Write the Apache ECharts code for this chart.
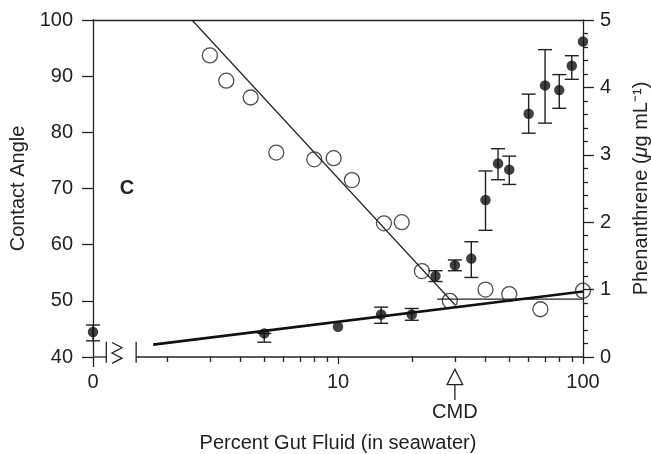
<!DOCTYPE html>
<html>
<head>
<meta charset="utf-8">
<script src="https://cdn.jsdelivr.net/npm/echarts@6/dist/echarts.min.js"></script>
<style>html,body{margin:0;padding:0;background:#fff}#c{width:651px;height:454px}</style>
</head>
<body>
<div id="c"></div>
<script>
// ---- data ----
const angleX = [3, 3.5, 4.4, 5.6, 8, 9.6, 11.4, 15.4, 18.2, 22, 28.6, 40, 50, 67, 100];
const angleY = [93.7, 89.2, 86.2, 76.4, 75.2, 75.4, 71.5, 63.8, 64.0, 55.3, 50.0, 52.0, 51.2, 48.5, 51.8];
const phenX = [5, 10, 15, 20, 25, 30, 35, 40, 45, 50, 60, 70, 80, 90, 100];
const phenY = [0.35, 0.45, 0.63, 0.63, 1.20, 1.36, 1.46, 2.33, 2.87, 2.78, 3.61, 4.03, 3.96, 4.32, 4.68];
const phenLow = [0.22, null, 0.50, 0.545, 1.12, 1.28, 1.18, 1.88, 2.63, 2.56, 3.32, 3.47, 3.69, 4.12, null];
const phenHigh = [0.35, null, 0.74, 0.72, 1.28, 1.44, 1.71, 2.76, 3.09, 2.98, 3.90, 4.56, 4.19, 4.47, null];
const zeroX = [0];
const zeroY = [0.37];
const zeroLow = [0.24];
const zeroHigh = [0.475];
const angleFitX = [2.535, 30];
const angleFitY = [100, 49.3];
const angleFlatX = [25.4, 100];
const angleFlatY = [50.3, 50.3];
const phenFitX = [1.76, 100];
const phenFitY = [0.184, 0.971];
const majorTicks = [10, 100];
const minorTicks = [2, 3, 4, 5, 6, 7, 8, 9, 20, 30, 40, 50, 60, 70, 80, 90];
const cmdX = 30;

const FONT = '"Liberation Sans", Arial, Helvetica, sans-serif';
const INK = '#222';
const zip = (a, b) => a.map((v, i) => [v, b[i]]);
const errData = (xs, lo, hi) => xs.map((x, i) => [x, lo[i], hi[i]]).filter(d => d[1] != null);

function errRender(params, api) {
  const x = api.value(0), lo = api.value(1), hi = api.value(2);
  const a = api.coord([x, lo]), b = api.coord([x, hi]);
  const hw = 7;
  const st = { stroke: INK, lineWidth: 1.4 };
  return { type: 'group', children: [
    { type: 'line', shape: { x1: a[0], y1: a[1], x2: b[0], y2: b[1] }, style: st },
    { type: 'line', shape: { x1: a[0] - hw, y1: a[1], x2: a[0] + hw, y2: a[1] }, style: st },
    { type: 'line', shape: { x1: b[0] - hw, y1: b[1], x2: b[0] + hw, y2: b[1] }, style: st }
  ]};
}

const chart = echarts.init(document.getElementById('c'), null, { renderer: 'canvas' });
const axisLine = { show: true, onZero: false, lineStyle: { color: INK, width: 1.3 } };
const noLine = { show: false, onZero: false };
chart.setOption({
  animation: false,
  backgroundColor: '#fff',
  textStyle: { fontFamily: FONT },
  grid: { left: 93, right: 68, top: 20, bottom: 97, containLabel: false, outerBoundsMode: 'none' },
  xAxis: [
    { type: 'log', logBase: 10, min: 1, max: 100, position: 'bottom',
      axisLine: noLine,
      axisTick: { show: true, inside: false, length: 7, lineStyle: { color: INK, width: 1.3 }, customValues: majorTicks },
      minorTick: { show: false },
      axisLabel: { show: true, customValues: majorTicks, margin: 15, fontSize: 20, color: INK, fontFamily: FONT },
      splitLine: { show: false },
      name: 'Percent Gut Fluid (in seawater)', nameLocation: 'middle', nameGap: 76,
      nameTextStyle: { fontSize: 20, color: INK, fontFamily: FONT } },
    { type: 'log', logBase: 10, min: 1, max: 100, position: 'bottom',
      axisLine: noLine,
      axisTick: { show: true, length: 5, lineStyle: { color: INK, width: 1.3 }, customValues: minorTicks },
      minorTick: { show: false },
      axisLabel: { show: false }, splitLine: { show: false } },
    { type: 'value', min: 0, max: 1, position: 'bottom',
      axisLine: noLine,
      axisTick: { show: true, length: 10, lineStyle: { color: INK, width: 1.3 }, customValues: [0] },
      minorTick: { show: false },
      axisLabel: { show: true, customValues: [0], margin: 15, fontSize: 20, color: INK, fontFamily: FONT },
      splitLine: { show: false } },
    { type: 'value', min: 0, max: 1, position: 'top',
      axisLine: axisLine, axisTick: { show: false }, minorTick: { show: false },
      axisLabel: { show: false }, splitLine: { show: false } }
  ],
  yAxis: [
    { type: 'value', min: 40, max: 100, interval: 10, position: 'left',
      axisLine: axisLine,
      axisTick: { show: true, length: 11, lineStyle: { color: INK, width: 1.3 } },
      minorTick: { show: false },
      axisLabel: { margin: 20, fontSize: 20, color: INK, fontFamily: FONT },
      splitLine: { show: false }, minorSplitLine: { show: false },
      name: 'Contact Angle', nameLocation: 'middle', nameGap: 64,
      nameTextStyle: { fontSize: 20, color: INK, fontFamily: FONT } },
    { type: 'value', min: 0, max: 5, interval: 1, position: 'right',
      axisLine: axisLine,
      axisTick: { show: true, length: 11, lineStyle: { color: INK, width: 1.3 } },
      minorTick: { show: true, splitNumber: 5, length: 5, lineStyle: { color: INK, width: 1.3 } },
      axisLabel: { margin: 17, fontSize: 20, color: INK, fontFamily: FONT },
      splitLine: { show: false }, minorSplitLine: { show: false },
      name: 'Phenanthrene ({i|\u03bc}g mL\u207b\u00b9)', nameLocation: 'middle', nameGap: 48,
      nameTextStyle: { fontSize: 20, color: INK, fontFamily: FONT,
        rich: { i: { fontSize: 20, fontStyle: 'italic', color: INK, fontFamily: FONT } } } }
  ],
  series: [
    { type: 'line', xAxisIndex: 0, yAxisIndex: 0, data: zip(angleFitX, angleFitY), symbol: 'none',
      lineStyle: { color: INK, width: 1.2 }, z: 2 },
    { type: 'line', xAxisIndex: 0, yAxisIndex: 0, data: zip(angleFlatX, angleFlatY), symbol: 'none',
      lineStyle: { color: INK, width: 1.2 }, z: 2 },
    { type: 'line', xAxisIndex: 0, yAxisIndex: 1, data: zip(phenFitX, phenFitY), symbol: 'none',
      lineStyle: { color: '#111', width: 2.6 }, z: 2 },
    { type: 'custom', xAxisIndex: 0, yAxisIndex: 1, data: errData(phenX, phenLow, phenHigh),
      renderItem: errRender, encode: { x: 0, y: [1, 2] }, z: 3 },
    { type: 'custom', xAxisIndex: 2, yAxisIndex: 1, data: errData(zeroX, zeroLow, zeroHigh),
      renderItem: errRender, encode: { x: 0, y: [1, 2] }, z: 3, clip: false },
    { type: 'scatter', xAxisIndex: 0, yAxisIndex: 0, data: zip(angleX, angleY), symbol: 'circle', symbolSize: 15,
      itemStyle: { color: 'rgba(0,0,0,0)', borderColor: INK, borderWidth: 1.3 }, z: 4 },
    { type: 'scatter', xAxisIndex: 0, yAxisIndex: 1, data: zip(phenX, phenY), symbol: 'circle', symbolSize: 10.5,
      itemStyle: { color: '#111' }, z: 5 },
    { type: 'scatter', xAxisIndex: 2, yAxisIndex: 1, data: zip(zeroX, zeroY), symbol: 'circle', symbolSize: 10.5,
      itemStyle: { color: '#111' }, z: 5, clip: false }
  ]
});

// ---- decorations: axis line with break, CMD arrow, panel letter ----
const y0 = chart.convertToPixel({ yAxisIndex: 0 }, 40);
const xZero = chart.convertToPixel({ xAxisIndex: 2 }, 0);
const xStart = chart.convertToPixel({ xAxisIndex: 0 }, 1.5);
const xEnd = chart.convertToPixel({ xAxisIndex: 0 }, 100);
const xCmd = chart.convertToPixel({ xAxisIndex: 0 }, cmdX);
const cap1 = xZero + 13.3, zz0 = xZero + 19, zz1 = xZero + 29, cap2 = xStart;
const ls = { stroke: INK, lineWidth: 1.3 };
chart.setOption({
  graphic: [
    { type: 'line', shape: { x1: xZero, y1: y0, x2: cap1, y2: y0 }, style: ls, z: 10 },
    { type: 'line', shape: { x1: cap1, y1: y0 - 15.3, x2: cap1, y2: y0 + 5.7 }, style: ls, z: 10 },
    { type: 'polyline', shape: { points: [[zz0, y0 - 14.5], [zz1, y0 - 9.3], [zz0, y0 - 4], [zz1, y0 + 1.2], [zz0, y0 + 6.3]] }, style: { stroke: INK, lineWidth: 1.3, fill: null }, z: 10 },
    { type: 'line', shape: { x1: cap2, y1: y0 - 15.3, x2: cap2, y2: y0 + 5.7 }, style: ls, z: 10 },
    { type: 'line', shape: { x1: cap2, y1: y0, x2: xEnd, y2: y0 }, style: ls, z: 10 },
    { type: 'polygon', shape: { points: [[xCmd, y0 + 12.3], [xCmd - 7.8, y0 + 27.6], [xCmd + 7.8, y0 + 27.6]] }, style: { stroke: INK, lineWidth: 1.3, fill: '#fff' }, z: 10 },
    { type: 'line', shape: { x1: xCmd, y1: y0 + 27.6, x2: xCmd, y2: y0 + 43 }, style: ls, z: 10 },
    { type: 'text', x: xCmd, y: y0 + 45, style: { text: 'CMD', fontSize: 20, fontFamily: FONT, fill: INK, align: 'center', verticalAlign: 'top' }, z: 10 },
    { type: 'text', x: 127, y: 188, style: { text: 'C', fontSize: 20, fontWeight: 'bold', fontFamily: FONT, fill: INK, align: 'center', verticalAlign: 'middle' }, z: 10 }
  ]
});
</script>
</body>
</html>
